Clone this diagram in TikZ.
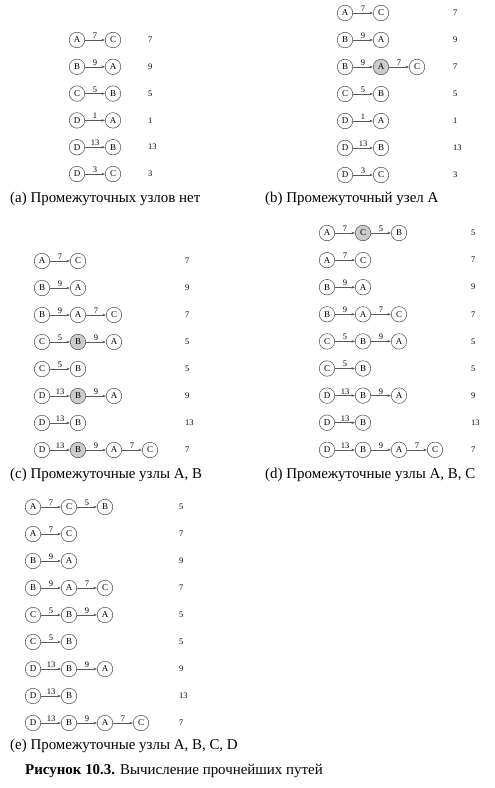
\documentclass[tikz,border=0pt]{standalone}
\usepackage{fontspec}
\setmainfont{Liberation Serif}
\usetikzlibrary{positioning,arrows.meta}

\begin{document}
\begin{tikzpicture}[x=1bp, y=-1bp,
  vtx/.style={circle, draw=black!70, line width=0.5bp, minimum size=15.5bp,
    inner sep=0pt, font=\fontsize{9}{10}\selectfont},
  hop/.style={-{Stealth[length=3.5bp, width=2.6bp]}, draw=black!65, line width=0.5bp},
  wt/.style={above, inner sep=1.2bp, font=\fontsize{8.5}{9}\selectfont},
  tot/.style={anchor=west, inner sep=0pt, font=\fontsize{8.5}{9}\selectfont},
  subcap/.style={anchor=west, inner sep=0pt, font=\fontsize{15}{17}\selectfont}]
  \useasboundingbox (0,0) rectangle (495,788);
  % (a) no intermediate nodes
  \foreach [count=\r] \hops/\len in {{A//white, C/7/white}/7, {B//white, A/9/white}/9,
      {C//white, B/5/white}/5, {D//white, A/1/white}/1, {D//white, B/13/white}/13,
      {D//white, C/3/white}/3} {
    \foreach [count=\i] \v/\w/\f in \hops {
      \node[vtx, fill=\f] (a\r-\i) at ({77+36*(\i-1)}, {40+26.8*(\r-1)}) {\v};
      \ifnum\i>1
        \pgfmathtruncatemacro\prev{\i-1}
        \draw[hop] (a\r-\prev) -- node[wt] {\w} (a\r-\i);
      \fi
    }
    \node[tot] (a\r-len) at (148, {40+26.8*(\r-1)}) {\len};
  }
  \node[subcap] (capa) at (10,199) {(a) Промежуточных узлов нет};
  % (b) via A
  \foreach [count=\r] \hops/\len in {{A//white, C/7/white}/7, {B//white, A/9/white}/9,
      {B//white, A/9/black!20, C/7/white}/7, {C//white, B/5/white}/5,
      {D//white, A/1/white}/1, {D//white, B/13/white}/13, {D//white, C/3/white}/3} {
    \foreach [count=\i] \v/\w/\f in \hops {
      \node[vtx, fill=\f] (b\r-\i) at ({345+36*(\i-1)}, {13+27*(\r-1)}) {\v};
      \ifnum\i>1
        \pgfmathtruncatemacro\prev{\i-1}
        \draw[hop] (b\r-\prev) -- node[wt] {\w} (b\r-\i);
      \fi
    }
    \node[tot] (b\r-len) at (453, {13+27*(\r-1)}) {\len};
  }
  \node[subcap] (capb) at (265,199) {(b) Промежуточный узел A};
  % (c) via A, B
  \foreach [count=\r] \hops/\len in {{A//white, C/7/white}/7, {B//white, A/9/white}/9,
      {B//white, A/9/white, C/7/white}/7, {C//white, B/5/black!20, A/9/white}/5,
      {C//white, B/5/white}/5, {D//white, B/13/black!20, A/9/white}/9,
      {D//white, B/13/white}/13, {D//white, B/13/black!20, A/9/white, C/7/white}/7} {
    \foreach [count=\i] \v/\w/\f in \hops {
      \node[vtx, fill=\f] (c\r-\i) at ({42+36*(\i-1)}, {261+27*(\r-1)}) {\v};
      \ifnum\i>1
        \pgfmathtruncatemacro\prev{\i-1}
        \draw[hop] (c\r-\prev) -- node[wt] {\w} (c\r-\i);
      \fi
    }
    \node[tot] (c\r-len) at (185, {261+27*(\r-1)}) {\len};
  }
  \node[subcap] (capc) at (10,475) {(c) Промежуточные узлы A, B};
  % (d) via A, B, C
  \foreach [count=\r] \hops/\len in {{A//white, C/7/black!20, B/5/white}/5,
      {A//white, C/7/white}/7, {B//white, A/9/white}/9, {B//white, A/9/white, C/7/white}/7,
      {C//white, B/5/white, A/9/white}/5, {C//white, B/5/white}/5,
      {D//white, B/13/white, A/9/white}/9, {D//white, B/13/white}/13,
      {D//white, B/13/white, A/9/white, C/7/white}/7} {
    \foreach [count=\i] \v/\w/\f in \hops {
      \node[vtx, fill=\f] (d\r-\i) at ({327+36*(\i-1)}, {233+27.1*(\r-1)}) {\v};
      \ifnum\i>1
        \pgfmathtruncatemacro\prev{\i-1}
        \draw[hop] (d\r-\prev) -- node[wt] {\w} (d\r-\i);
      \fi
    }
    \node[tot] (d\r-len) at (471, {233+27.1*(\r-1)}) {\len};
  }
  \node[subcap] (capd) at (265,475) {(d) Промежуточные узлы A, B, C};
  % (e) via A, B, C, D
  \foreach [count=\r] \hops/\len in {{A//white, C/7/white, B/5/white}/5,
      {A//white, C/7/white}/7, {B//white, A/9/white}/9, {B//white, A/9/white, C/7/white}/7,
      {C//white, B/5/white, A/9/white}/5, {C//white, B/5/white}/5,
      {D//white, B/13/white, A/9/white}/9, {D//white, B/13/white}/13,
      {D//white, B/13/white, A/9/white, C/7/white}/7} {
    \foreach [count=\i] \v/\w/\f in \hops {
      \node[vtx, fill=\f] (e\r-\i) at ({33+36*(\i-1)}, {507+27*(\r-1)}) {\v};
      \ifnum\i>1
        \pgfmathtruncatemacro\prev{\i-1}
        \draw[hop] (e\r-\prev) -- node[wt] {\w} (e\r-\i);
      \fi
    }
    \node[tot] (e\r-len) at (179, {507+27*(\r-1)}) {\len};
  }
  \node[subcap] (cape) at (10,746) {(e) Промежуточные узлы A, B, C, D};
  % figure caption
  \node[subcap] (figcap) at (25,771) {\textbf{Рисунок 10.3.} Вычисление прочнейших путей};
\end{tikzpicture}
\end{document}
